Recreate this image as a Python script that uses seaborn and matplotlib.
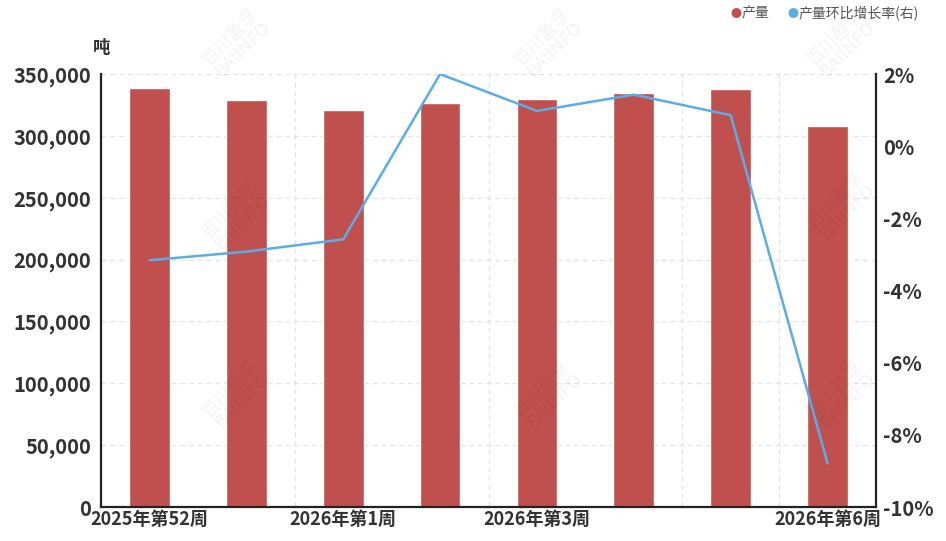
import matplotlib.pyplot as plt
import matplotlib.ticker as mticker
import seaborn as sns
import pandas as pd

# data
weeks = ['2025年第52周', '2025年第53周', '2026年第1周', '2026年第2周',
         '2026年第3周', '2026年第4周', '2026年第5周', '2026年第6周']
output = [339100, 329000, 320700, 326800, 330000, 334600, 337600, 307700]
growth = [-3.16, -2.92, -2.58, 2.0, 0.98, 1.43, 0.86, -8.79]
shown_labels = ['2025年第52周', '2026年第1周', '2026年第3周', '2026年第6周']

df = pd.DataFrame({'week': weeks, 'output': output, 'growth': growth})

sns.set_style('white')
plt.rcParams['font.family'] = ['Noto Sans CJK SC', 'DejaVu Sans']

bar_color = '#c0504d'
line_color = '#5aade6'
text_color = '#333333'

fig = plt.figure(figsize=(9.46, 5.41), dpi=100)
ax = fig.add_axes([0.1068, 0.0628, 0.8192, 0.8002])

sns.barplot(data=df, x='week', y='output', color=bar_color, width=0.42,
            saturation=1, ax=ax, zorder=2)
ax.set_ylim(0, 350000)
ax.set_xlim(-0.5, len(weeks) - 0.5)
ax.yaxis.set_major_locator(mticker.MultipleLocator(50000))
ax.yaxis.set_major_formatter(mticker.FuncFormatter(lambda v, p: f'{int(v):,}'))
ax.set_xlabel('')
ax.set_ylabel('')

# only some category labels are shown
pos = [weeks.index(w) for w in shown_labels]
ax.set_xticks(pos)
ax.set_xticklabels(shown_labels)
ax.set_xticks([1.5, 3.5, 5.5, 6.5], minor=True)

ax.grid(axis='y', which='major', color='#e3e3e3', linestyle=(0, (4, 3)), linewidth=0.9)
ax.grid(axis='x', which='minor', color='#e3e3e3', linestyle=(0, (4, 3)), linewidth=0.9)
ax.grid(axis='x', which='major', visible=False)
ax.set_axisbelow(True)

ax.tick_params(axis='both', which='both', length=0)
ax.tick_params(axis='y', labelsize=14.5, labelcolor=text_color, pad=7)
ax.tick_params(axis='x', labelsize=13, labelcolor=text_color, pad=2)
for lbl in ax.get_yticklabels() + ax.get_xticklabels():
    lbl.set_fontweight('bold')

for side in ['left', 'bottom']:
    ax.spines[side].set_color('#222222')
    ax.spines[side].set_linewidth(1.6)
ax.spines['top'].set_visible(False)
ax.spines['right'].set_visible(False)

ax2 = ax.twinx()
sns.lineplot(data=df, x='week', y='growth', color=line_color, linewidth=1.8,
             sort=False, ax=ax2, zorder=3)
ax2.set_ylim(-10, 2)
ax2.yaxis.set_major_locator(mticker.MultipleLocator(2))
ax2.yaxis.set_major_formatter(mticker.FuncFormatter(lambda v, p: f'{int(round(v))}%'))
ax2.set_ylabel('')
ax2.tick_params(axis='y', length=0, labelsize=14.5, labelcolor=text_color, pad=5)
for lbl in ax2.get_yticklabels():
    lbl.set_fontweight('bold')
ax2.spines['right'].set_color('#222222')
ax2.spines['right'].set_linewidth(1.6)
for side in ['left', 'top', 'bottom']:
    ax2.spines[side].set_visible(False)
ax2.grid(False)

# unit label
fig.text(0.098, 0.912, '吨', fontsize=12.5, fontweight='bold', color=text_color,
         ha='left', va='center')

# legend
fig.text(0.772, 0.975, '●', color=bar_color, fontsize=8, ha='left', va='center')
fig.text(0.784, 0.975, '产量', color='#555555', fontsize=10, ha='left', va='center')
fig.text(0.832, 0.975, '●', color=line_color, fontsize=8, ha='left', va='center')
fig.text(0.844, 0.975, '产量环比增长率(右)', color='#555555', fontsize=10,
         ha='left', va='center')

# faint watermarks
for x, y in [(0.25, 0.92), (0.58, 0.92), (0.89, 0.92), (0.25, 0.27), (0.58, 0.27),
             (0.89, 0.27), (0.25, 0.60), (0.89, 0.62)]:
    fig.text(x, y, '百川盈孚\nBAIINFO', fontsize=13, color='#000000', alpha=0.05,
             rotation=45, ha='center', va='center', linespacing=0.9)

plt.savefig('out.png', dpi=100)
print('done')
